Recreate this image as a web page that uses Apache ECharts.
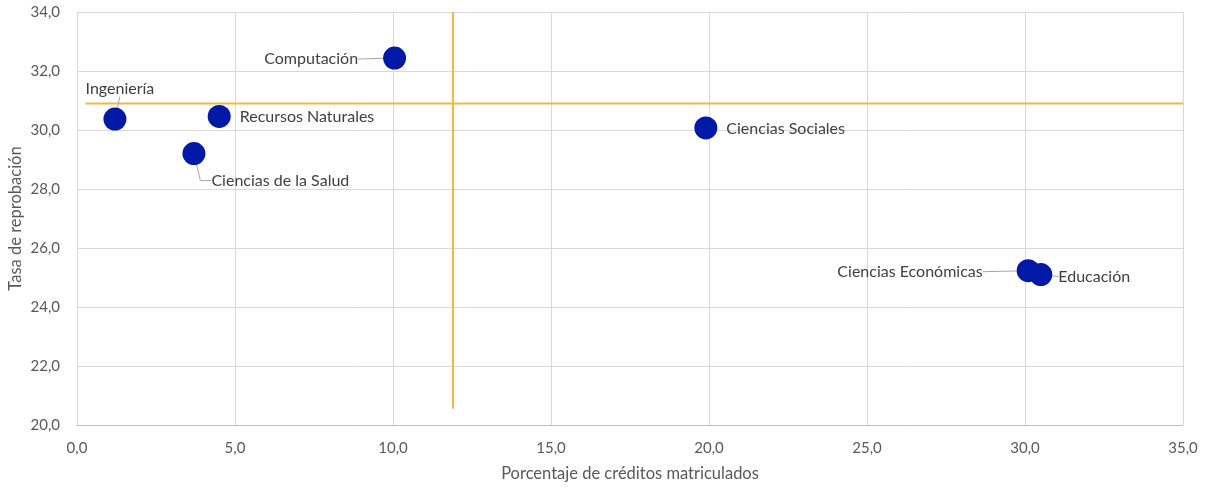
<!DOCTYPE html>
<html>
<head>
<meta charset="utf-8">
<script src="https://cdn.jsdelivr.net/npm/echarts@6/dist/echarts.min.js"></script>
<style>
html,body{margin:0;padding:0;background:#fff;}
#c{width:1206px;height:487px;}
</style>
</head>
<body>
<div id="c"></div>
<script>
// Data
const categories = ['Ingeniería','Recursos Naturales','Ciencias de la Salud','Computación','Ciencias Sociales','Ciencias Económicas','Educación'];
const creditos = [1.2, 4.5, 3.7, 10.05, 19.9, 30.1, 30.5];
const reprobacion = [30.37, 30.46, 29.2, 32.44, 30.07, 25.23, 25.1];
const hLineX = [0.27, 35];
const hLineY = [30.9, 30.9];
const vLineX = [11.9, 11.9];
const vLineY = [34, 20.55];
const xTicks = [0, 5, 10, 15, 20, 25, 30, 35];
const yTicks = [20, 22, 24, 26, 28, 30, 32, 34];

// Label layout (presentation only): base position + pixel shift
const labelCfg = {
  'Ingeniería': {position:'top', dx:5, dy:-6, line:true, len2:0},
  'Recursos Naturales': {position:'right', dx:4, dy:0, line:false, len2:0},
  'Ciencias de la Salud': {position:'right', dx:1, dy:27, line:true, len2:11},
  'Computación': {position:'left', dx:-20, dy:1, line:true, len2:0},
  'Ciencias Sociales': {position:'right', dx:4, dy:1, line:false, len2:0},
  'Ciencias Económicas': {position:'left', dx:-29, dy:1, line:true, len2:0},
  'Educación': {position:'right', dx:1, dy:2, line:true, len2:0}
};

const fmt = v => v.toFixed(1).replace('.', ',');
const FONT = 'Lato';

const scatterData = categories.map((name, i) => {
  const c = labelCfg[name];
  return {
    name: name,
    value: [creditos[i], reprobacion[i]],
    label: {position: c.position, distance: 5},
    labelLine: {show: c.line, length2: c.len2}
  };
});

const chart = echarts.init(document.getElementById('c'), null, {renderer:'canvas'});
chart.setOption({
  animation: false,
  backgroundColor: '#ffffff',
  textStyle: {fontFamily: FONT},
  grid: {left: 77, right: 23, top: 12, bottom: 62, containLabel: false, outerBoundsMode: 'none'},
  xAxis: {
    type: 'value', min: 0, max: 35, interval: 5,
    name: 'Porcentaje de créditos matriculados',
    nameLocation: 'middle', nameGap: 40, nameMoveOverlap: false,
    nameTextStyle: {color: '#595959', fontSize: 16.5, fontFamily: FONT},
    axisLine: {show: true, lineStyle: {color: '#bfbfbf', width: 1}},
    axisTick: {show: false},
    axisLabel: {color: '#595959', fontSize: 15, fontFamily: FONT, margin: 16, formatter: fmt},
    splitLine: {show: true, lineStyle: {color: '#d9d9d9', width: 1}}
  },
  yAxis: {
    type: 'value', min: 20, max: 34, interval: 2,
    name: 'Tasa de reprobación',
    nameLocation: 'middle', nameGap: 53, nameMoveOverlap: false,
    nameTextStyle: {color: '#595959', fontSize: 16.5, fontFamily: FONT},
    axisLine: {show: true, lineStyle: {color: '#d9d9d9', width: 1}},
    axisTick: {show: false},
    axisLabel: {color: '#595959', fontSize: 15, fontFamily: FONT, margin: 17, formatter: fmt},
    splitLine: {show: true, lineStyle: {color: '#d9d9d9', width: 1}}
  },
  series: [
    {
      type: 'line', data: hLineX.map((x, i) => [x, hLineY[i]]),
      symbol: 'none', lineStyle: {color: '#F2B844', width: 2}, z: 3, silent: true
    },
    {
      type: 'line', data: vLineX.map((x, i) => [x, vLineY[i]]),
      symbol: 'none', lineStyle: {color: '#F2B844', width: 2}, z: 3, silent: true
    },
    {
      type: 'scatter', data: scatterData, symbolSize: 23, z: 5,
      itemStyle: {color: '#0019A6', opacity: 1},
      label: {show: true, formatter: p => p.name, color: '#404040', fontSize: 16, fontFamily: FONT},
      labelLine: {show: true, lineStyle: {color: '#a6a6a6', width: 1}},
      labelLayout: function (params) {
        const c = labelCfg[categories[params.dataIndex]];
        return {dx: c.dx, dy: c.dy};
      }
    }
  ]
});
</script>
</body>
</html>
